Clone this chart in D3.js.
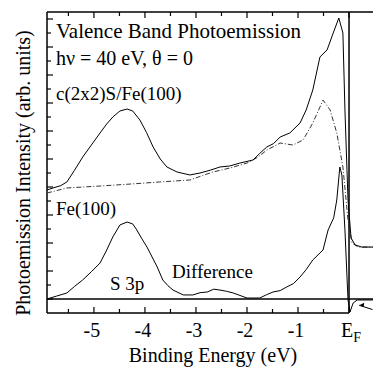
<!DOCTYPE html>
<meta charset="utf-8">
<html>
  <head>
    <style>
      body { margin: 0; background: #fff; }
      svg { font-family: serif; }
    </style>
  </head>
  <body>
    <div id="chart"></div>
<script src="https://d3js.org/d3.v7.min.js"></script>
<script>
// binding energy (eV) and intensity (arb. units, 0 = difference baseline)
var sulfurE = [-5.92,-5.80,-5.65,-5.53,-5.38,-5.22,-5.05,-4.88,-4.75,-4.63,-4.49,-4.35,-4.24,-4.10,-3.97,-3.84,-3.70,-3.57,-3.37,-3.12,-2.92,-2.72,-2.53,-2.34,-2.14,-1.88,-1.75,-1.61,-1.48,-1.35,-1.16,-0.96,-0.84,-0.71,-0.57,-0.43,-0.31,-0.20,-0.12,-0.08,-0.02,0.04,0.12,0.25,0.47]
var sulfurI = [7.79,7.93,8.1,8.36,9.2,10.14,11.0,11.86,12.5,13.0,13.43,13.57,13.43,12.79,11.9,10.86,10.0,9.43,9.07,8.86,9.0,9.2,9.43,9.5,9.71,9.93,10.4,10.86,11.1,11.57,11.86,12.57,13.5,14.93,17.29,17.79,19.0,20.07,19.0,13.5,7.07,4.36,3.86,3.71,3.71]

var cleanE = [-5.92,-5.53,-4.88,-4.29,-3.71,-3.12,-2.67,-2.33,-2.0,-1.80,-1.61,-1.35,-1.10,-0.90,-0.71,-0.57,-0.51,-0.37,-0.24,-0.12,-0.02,0.06,0.18,0.47]
var cleanI = [7.57,7.93,8.07,8.21,8.36,8.5,9.07,9.36,9.71,10.1,10.64,11.14,11.0,11.36,12.57,13.71,14.21,13.5,11.86,9.43,5.64,4.0,3.71,3.71]

var diffE = [-5.92,-5.86,-5.73,-5.53,-5.38,-5.22,-5.05,-4.88,-4.75,-4.63,-4.49,-4.35,-4.24,-4.16,-4.06,-3.96,-3.86,-3.76,-3.65,-3.55,-3.45,-3.25,-3.06,-2.92,-2.78,-2.65,-2.53,-2.40,-2.27,-2.0,-1.75,-1.62,-1.49,-1.35,-1.22,-1.09,-0.96,-0.84,-0.71,-0.51,-0.41,-0.30,-0.24,-0.18,-0.14,-0.08,-0.02,0.02,0.08,0.16,0.47]
var diffI = [0,0.07,0.21,0.43,0.9,1.36,1.95,2.57,3.5,4.43,5.29,5.5,5.36,4.93,4.3,3.71,3.0,2.29,1.36,0.95,0.64,0.29,0.29,0.45,0.5,0.7,0.64,0.55,0.43,0.07,0.07,0.3,0.5,0.6,0.86,1.1,1.57,2.1,2.79,3.5,4.93,5.8,7.07,9.43,8.86,4.93,-0.07,-0.93,-0.29,-0.07,-0.07]

var xTicks = [-5, -4, -3, -2, -1]

var W = 373, H = 372

var svg = d3.select("#chart").append("svg")
    .attr("width", W)
    .attr("height", H)

var x = d3.scaleLinear().domain([-5.92, 0.47]).range([47, 373])
var y = d3.scaleLinear().domain([-1, 20.5]).range([313, 12])

var line = d3.line()
    .x(function(d) { return x(d[0]); })
    .y(function(d) { return y(d[1]); })

function pairs(e, v) { return e.map(function(d, i) { return [d, v[i]]; }); }

function label(px, py, size, txt) {
  return svg.append("text").attr("x", px).attr("y", py)
      .attr("font-family", "serif")
      .attr("font-size", size)
      .attr("fill", "#000")
      .text(txt)
}

// frame: left, top (runs off the picture), bottom up to E_F
svg.append("line").attr("x1", x(-5.92)).attr("x2", x(-5.92)).attr("y1", y(20.5)).attr("y2", y(-1))
    .attr("stroke", "#000").attr("stroke-width", 1.5)
svg.append("line").attr("x1", x(-5.92)).attr("x2", W).attr("y1", y(20.5)).attr("y2", y(20.5))
    .attr("stroke", "#000").attr("stroke-width", 1.5)
svg.append("line").attr("x1", x(-5.92)).attr("x2", x(0)).attr("y1", y(-1)).attr("y2", y(-1))
    .attr("stroke", "#000").attr("stroke-width", 1.5)

// E_F marker and zero line of the difference spectrum
svg.append("line").attr("x1", x(0)).attr("x2", x(0)).attr("y1", y(20.5)).attr("y2", y(-1))
    .attr("stroke", "#000").attr("stroke-width", 1.5)
svg.append("line").attr("x1", x(-5.92)).attr("x2", W).attr("y1", y(0)).attr("y2", y(0))
    .attr("stroke", "#000").attr("stroke-width", 1.3)

// ticks, all pointing inwards
var eTicks = d3.range(-5.5, 0.01, 0.5)
svg.selectAll(".bt").data(eTicks).enter().append("line")
    .attr("x1", function(d) { return x(d); }).attr("x2", function(d) { return x(d); })
    .attr("y1", y(-1))
    .attr("y2", function(d) { return y(-1) - (d % 1 === 0 ? 6 : 4); })
    .attr("stroke", "#000").attr("stroke-width", 1.2)
svg.selectAll(".tt").data(eTicks).enter().append("line")
    .attr("x1", function(d) { return x(d); }).attr("x2", function(d) { return x(d); })
    .attr("y1", y(20.5))
    .attr("y2", function(d) { return y(20.5) + (d % 1 === 0 ? 6 : 4); })
    .attr("stroke", "#000").attr("stroke-width", 1.2)
svg.selectAll(".lt").data(d3.range(0, 21)).enter().append("line")
    .attr("x1", x(-5.92))
    .attr("x2", function(d) { return x(-5.92) + (d % 2 === 0 ? 6 : 4); })
    .attr("y1", function(d) { return y(d); }).attr("y2", function(d) { return y(d); })
    .attr("stroke", "#000").attr("stroke-width", 1.2)

// spectra
svg.append("path").datum(pairs(cleanE, cleanI)).attr("d", line)
    .attr("fill", "none").attr("stroke", "#333").attr("stroke-width", 1)
    .attr("stroke-dasharray", "5,2,1,2")
svg.append("path").datum(pairs(sulfurE, sulfurI)).attr("d", line)
    .attr("fill", "none").attr("stroke", "#000").attr("stroke-width", 1)
svg.append("path").datum(pairs(diffE, diffI)).attr("d", line)
    .attr("fill", "none").attr("stroke", "#000").attr("stroke-width", 1)

// little arrow right of E_F
var ax0 = x(0.46), ay0 = y(-0.75), ax1 = x(0.2), ay1 = y(-0.45)
svg.append("line").attr("x1", ax0).attr("y1", ay0).attr("x2", ax1).attr("y2", ay1)
    .attr("stroke", "#000").attr("stroke-width", 1)
svg.append("path")
    .attr("d", "M" + ax1 + "," + ay1 + " l5,-2.5 l-0.5,4 Z")
    .attr("fill", "#000")

// tick labels
xTicks.forEach(function(d) {
  label(x(d) - 2, 337, 20, "-" + Math.abs(d)).attr("text-anchor", "middle")
})
var ef = label(x(0) - 8, 337, 20, "")
ef.append("tspan").text("E")
ef.append("tspan").attr("dy", 5).attr("font-size", 14).text("F")

// axis titles
label(213, 362, 20, "Binding Energy (eV)").attr("text-anchor", "middle")
label(0, 0, 20, "Photoemission Intensity (arb. units)")
    .attr("text-anchor", "middle")
    .attr("transform", "translate(30,173) rotate(-90)")

// annotations
label(56, 38, 21, "Valence Band Photoemission")
label(56, 65, 20, "hν = 40 eV, θ = 0")
label(56, 100, 19, "c(2x2)S/Fe(100)")
label(56, 215, 19, "Fe(100)")
label(110, 290, 19, "S 3p")
label(172, 278, 19, "Difference")
</script>
  </body>
</html>
